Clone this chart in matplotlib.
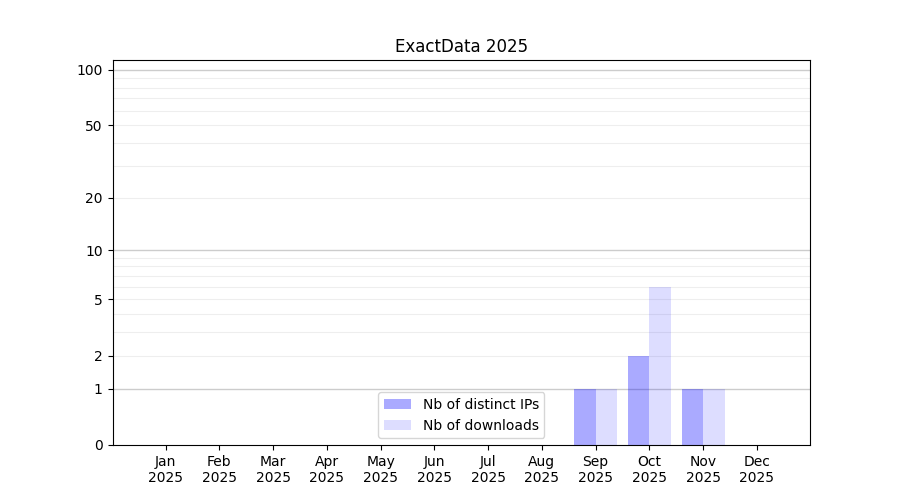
import numpy as np
import matplotlib
matplotlib.use("Agg")
import matplotlib.pyplot as plt
from matplotlib.ticker import FixedLocator, NullFormatter

# --- data ---
months = ["Jan", "Feb", "Mar", "Apr", "May", "Jun", "Jul", "Aug", "Sep", "Oct", "Nov", "Dec"]
year = "2025"
distinct_ips = [0, 0, 0, 0, 0, 0, 0, 0, 1, 2, 1, 0]
downloads = [0, 0, 0, 0, 0, 0, 0, 0, 1, 6, 1, 0]


def fwd(y):
    return np.log10(1 + np.clip(y, 0, None))


def inv(y):
    return 10 ** y - 1


fig, ax = plt.subplots(figsize=(9, 5), dpi=100)
x = np.arange(len(months))
w = 0.4
ax.bar(x - w / 2, distinct_ips, width=w, color="blue", alpha=1 / 3, label="Nb of distinct IPs")
ax.bar(x + w / 2, downloads, width=w, color="blue", alpha=0.133, label="Nb of downloads")

ax.set_yscale("function", functions=(fwd, inv))
ax.set_ylim(0, 113)
ax.yaxis.set_major_locator(FixedLocator([0, 1, 2, 5, 10, 20, 50, 100]))
ax.yaxis.set_major_formatter(plt.FuncFormatter(lambda v, p: f"{v:g}"))
minor = [2, 3, 4, 5, 6, 7, 8, 9, 20, 30, 40, 50, 60, 70, 80, 90]
ax.yaxis.set_minor_locator(FixedLocator(minor))
ax.yaxis.set_minor_formatter(NullFormatter())
ax.tick_params(axis="y", which="minor", length=0)

# grid lines
for v in [1, 10, 100]:
    ax.axhline(v, color="#cccccc", lw=1, zorder=0.5)
for v in minor:
    ax.axhline(v, color="#eeeeee", lw=0.8, zorder=0.4)

ax.set_xticks(x)
ax.set_xticklabels([f"{m}\n{year}" for m in months])
ax.set_title("ExactData 2025")
ax.legend(loc="lower center")

fig.savefig("out.png", dpi=100)
